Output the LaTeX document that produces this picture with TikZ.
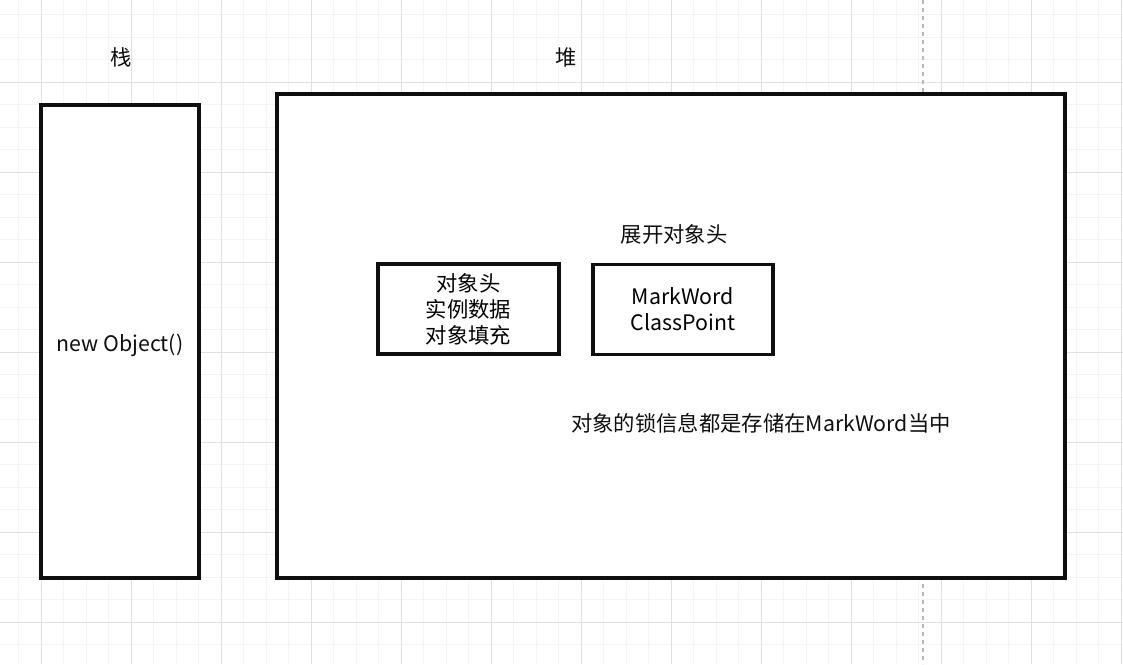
\documentclass[tikz,border=0pt]{standalone}
\usepackage{fontspec}
\setmainfont{Noto Sans CJK SC}
\usetikzlibrary{calc}
\definecolor{minorgrid}{RGB}{244,244,244}
\definecolor{majorgrid}{RGB}{224,224,224}
\definecolor{guide}{RGB}{185,185,185}
\definecolor{ink}{RGB}{15,15,15}

\begin{document}
\begin{tikzpicture}[x=0.75pt,y=-0.75pt,
	box/.style={draw=ink,line width=2.3pt,fill=white,inner sep=0pt,align=center,
		font=\fontsize{16}{19.5}\selectfont},
	label/.style={text=ink,inner sep=0pt,font=\fontsize{16}{19.5}\selectfont}]
				\useasboundingbox (0,0) rectangle (1123,664);
				\fill[white] (0,0) rectangle (1123,664);
				% grid
				\foreach \i in {-1,...,48}
					\draw[minorgrid,line width=0.75pt] ({41+22.5*\i},0) -- ({41+22.5*\i},664);
				\foreach \j in {-3,...,25}
					\draw[minorgrid,line width=0.75pt] (0,{82+22.5*\j}) -- (1123,{82+22.5*\j});
				\foreach \i in {0,...,12}
					\draw[majorgrid,line width=0.75pt] ({41+90*\i},0) -- ({41+90*\i},664);
				\foreach \j in {-1,...,6}
					\draw[majorgrid,line width=0.75pt] (0,{82+90*\j}) -- (1123,{82+90*\j});
				\draw[guide,dashed,line width=0.9pt] (923,0) -- (923,664);
				% boxes
				\node[box,minimum width=118.5pt,minimum height=354.75pt] (stack) at (120,341.5) {};
				\node[box,minimum width=591pt,minimum height=363pt] (heap) at (671,336) {};
				\node[box,minimum width=135.75pt,minimum height=67.5pt] (layout) at (468.5,309) {对象头\\实例数据\\对象填充};
				\node[box,minimum width=135pt,minimum height=67.5pt] (header) at (683,309.5) {MarkWord\\ClassPoint};
				% labels
				\node[label] (newobj) at (120,345.5) {new Object()};
				\node[label] (stacktitle) at (121,57) {栈};
				\node[label] (heaptitle) at (566,57) {堆};
				\node[label] (expand) at (674,234) {展开对象头};
				\node[label] (note) at (761,423) {对象的锁信息都是存储在MarkWord当中};
			\end{tikzpicture}
\end{document}
